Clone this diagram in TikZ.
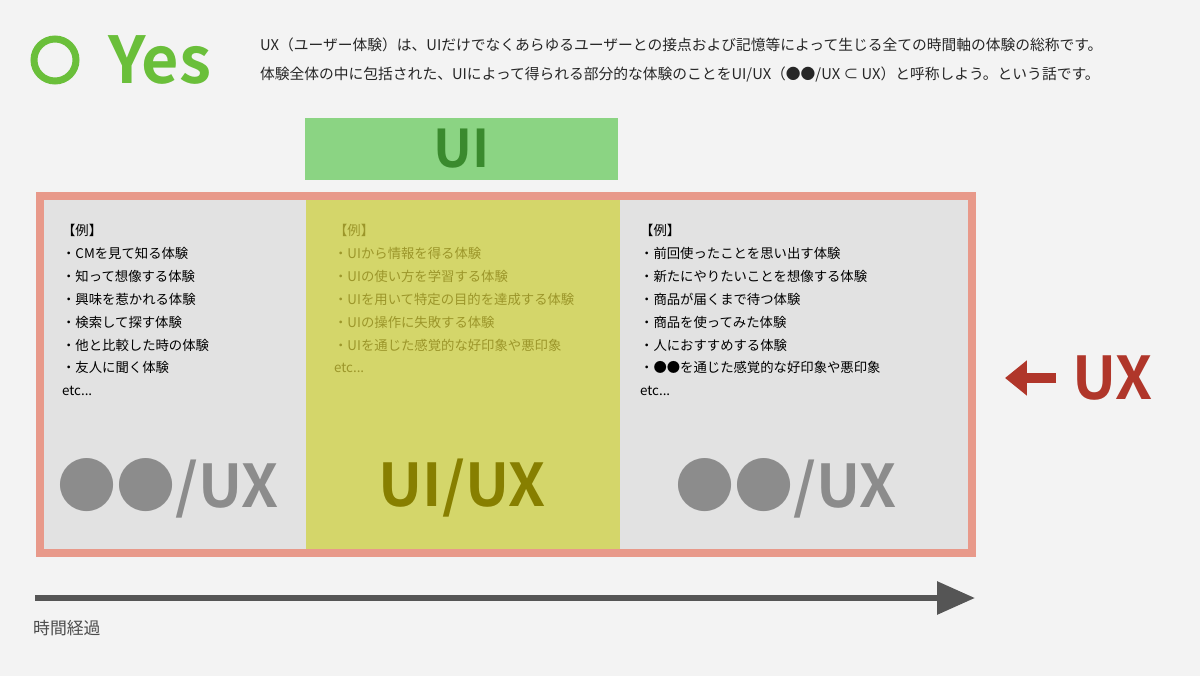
\documentclass[tikz,border=0pt]{standalone}
\usepackage{fontspec}
\setmainfont{Noto Sans CJK JP}[BoldFont={Noto Sans CJK JP Bold}]
\usetikzlibrary{arrows.meta}
\definecolor{bg}{HTML}{F3F3F3}
\definecolor{yesg}{HTML}{6ABF3A}
\definecolor{uibox}{HTML}{8BD483}
\definecolor{uitxt}{HTML}{3A8A2E}
\definecolor{salmon}{HTML}{E8998A}
\definecolor{pane}{HTML}{E2E2E2}
\definecolor{mid}{HTML}{D4D66A}
\definecolor{midtxt}{HTML}{9C962A}
\definecolor{bigg}{HTML}{8C8C8C}
\definecolor{bigm}{HTML}{877F00}
\definecolor{uxred}{HTML}{B0362A}
\definecolor{tl}{HTML}{555555}
\tikzset{
 lst/.style={anchor=north west,align=left,font=\fontsize{19}{32.6}\selectfont,inner sep=0pt},
 big/.style={font=\bfseries\fontsize{84}{84}\selectfont,inner sep=0pt},
 top/.style={anchor=west,font=\fontsize{21}{21}\selectfont,inner sep=0pt,text=black!85}
}
\begin{document}
\begin{tikzpicture}[x=0.05cm,y=-0.05cm]
\fill[bg] (0,0) rectangle (1200,676);
\useasboundingbox (0,0) rectangle (1200,676);
% Yes
\draw[yesg,line width=7*1.42pt] (55,60) circle (21);
\node[anchor=west,inner sep=0pt,text=yesg,font=\bfseries\fontsize{92}{92}\selectfont] (yes) at (108,60) {Yes};
\node[top] (t1) at (260,45) {UX（ユーザー体験）は、UIだけでなくあらゆるユーザーとの接点および記憶等によって生じる全ての時間軸の体験の総称です。};
\node[top] (t2) at (260,75) {体験全体の中に包括された、UIによって得られる部分的な体験のことをUI/UX（●●/UX ⊂ UX）と呼称しよう。という話です。};
% UI box
\node[fill=uibox,minimum width=313*1.42pt,minimum height=62*1.42pt,inner sep=0pt,text=uitxt,font=\bfseries\fontsize{74}{74}\selectfont] (ui) at (461.5,149) {UI};
% panes
\fill[pane] (40,196) rectangle (306,553);
\fill[mid] (306,196) rectangle (620,553);
\fill[pane] (620,196) rectangle (972,553);
\draw[salmon,line width=8*1.42pt] (40,196) rectangle (972,553);
\node[lst] (l1) at (62,224) {【例】\\・CMを見て知る体験\\・知って想像する体験\\・興味を惹かれる体験\\・検索して探す体験\\・他と比較した時の体験\\・友人に聞く体験\\etc...};
\node[lst,text=midtxt] (l2) at (334,224) {【例】\\・UIから情報を得る体験\\・UIの使い方を学習する体験\\・UIを用いて特定の目的を達成する体験\\・UIの操作に失敗する体験\\・UIを通じた感覚的な好印象や悪印象\\etc...};
\node[lst] (l3) at (640,224) {【例】\\・前回使ったことを思い出す体験\\・新たにやりたいことを想像する体験\\・商品が届くまで待つ体験\\・商品を使ってみた体験\\・人におすすめする体験\\・●●を通じた感覚的な好印象や悪印象\\etc...};
\node[big,text=bigg] (b1) at (168,488) {●●/UX};
\node[big,text=bigm] (b2) at (462,488) {UI/UX};
\node[big,text=bigg] (b3) at (786,488) {●●/UX};
% UX arrow
\node[anchor=west,inner sep=0pt,text=uxred,font=\bfseries\fontsize{84}{84}\selectfont] (ux) at (1072,378) {UX};
\coordinate (ua) at (1056,378);
\coordinate (ub) at (1005,378);
\draw[uxred,line width=10*1.42pt,-{Triangle[length=22*1.42pt,width=34*1.42pt]}] (ua) -- (ub);
% timeline
\coordinate (s) at (35,598);
\coordinate (e) at (975,598);
\draw[tl,line width=6*1.42pt,-{Triangle[length=38*1.42pt,width=32*1.42pt]}] (s) -- (e);
\node[anchor=west,inner sep=0pt,text=black!70,font=\fontsize{24}{24}\selectfont] (tt) at (33,628) {時間経過};
\end{tikzpicture}
\end{document}
